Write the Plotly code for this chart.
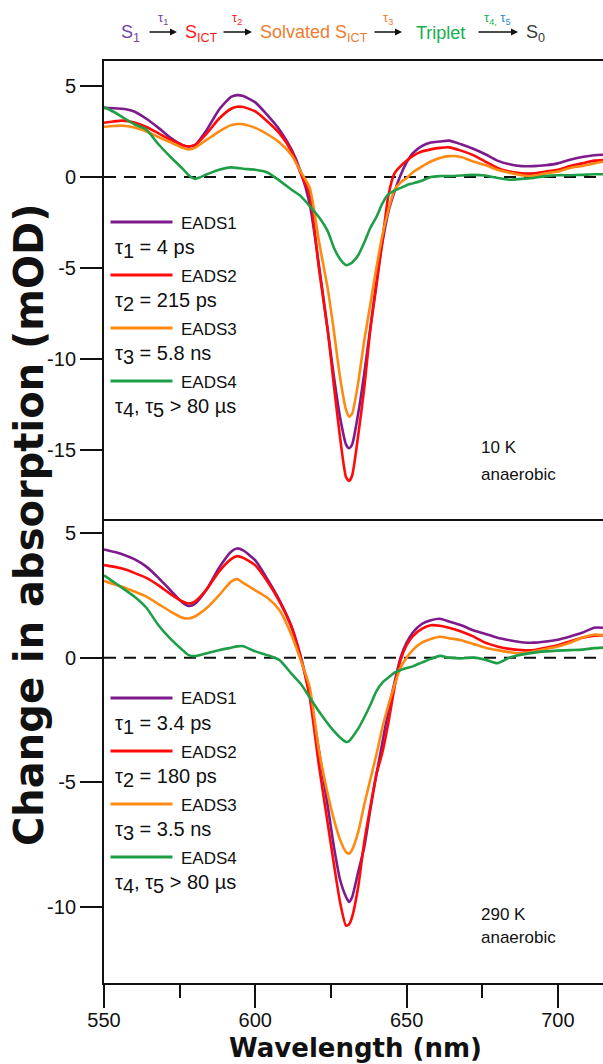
import plotly.graph_objects as go

# ---------------- data ----------------
wavelength = [550, 553, 556, 560, 564, 568, 572, 576, 578, 580, 584, 588, 592, 594, 596,
              600, 604, 608, 612, 615, 618, 621, 624, 626, 628, 630, 631, 632, 634, 636,
              638, 640, 642, 644, 646, 648, 650, 652, 655, 658, 661, 664, 668, 672, 676,
              680, 684, 688, 692, 696, 700, 704, 708, 712, 715]

# 10 K anaerobic
eads1_10K = [3.8, 3.78, 3.75, 3.6, 3.2, 2.7, 2.15, 1.75, 1.68, 1.75, 2.6, 3.7, 4.4, 4.5, 4.45,
             4.1, 3.4, 2.6, 1.5, 0.3, -1.5, -4.8, -8.5, -11.0, -13.2, -14.7, -14.9, -14.7, -13.0, -10.8,
             -8.3, -5.8, -3.6, -1.9, -0.8, 0.1, 0.8, 1.3, 1.7, 1.9, 1.95, 2.0, 1.8, 1.55, 1.25,
             0.9, 0.7, 0.6, 0.6, 0.65, 0.75, 0.95, 1.1, 1.2, 1.22]
eads2_10K = [2.98, 3.05, 3.1, 3.0, 2.75, 2.4, 2.05, 1.75, 1.68, 1.75, 2.4, 3.2, 3.75, 3.86, 3.85,
             3.6, 3.05, 2.4, 1.4, 0.2, -1.0, -5.0, -8.5, -11.5, -14.3, -16.5, -16.7, -16.4, -14.2, -11.6,
             -8.4, -6.0, -3.5, -1.0, 0.2, 0.6, 0.9, 1.15, 1.4, 1.52, 1.6, 1.63, 1.45, 1.2, 0.85,
             0.5, 0.3, 0.2, 0.2, 0.3, 0.4, 0.6, 0.75, 0.9, 0.93]
eads3_10K = [2.76, 2.8, 2.82, 2.72, 2.5, 2.2, 1.9, 1.6, 1.52, 1.6, 2.05, 2.5, 2.85, 2.91, 2.9,
             2.7, 2.35, 1.9, 1.2, 0.3, -0.6, -3.5, -6.2, -8.5, -11.0, -12.8, -13.17, -13.0, -11.3, -9.0,
             -7.0, -5.0, -3.2, -1.8, -0.7, -0.3, -0.05, 0.25, 0.57, 0.85, 1.05, 1.15, 1.1, 0.85, 0.66,
             0.4, 0.24, 0.1, 0.05, 0.2, 0.3, 0.5, 0.6, 0.75, 0.84]
eads4_10K = [3.85, 3.6, 3.3, 2.9, 2.6, 1.8, 1.1, 0.45, 0.1, -0.1, 0.15, 0.4, 0.53, 0.5, 0.45,
             0.4, 0.25, -0.2, -0.7, -1.05, -1.6, -2.2, -3.0, -3.9, -4.5, -4.84, -4.8, -4.7, -4.3, -3.6,
             -2.8, -2.2, -1.45, -0.95, -0.75, -0.6, -0.45, -0.35, -0.2, 0.0, 0.05, 0.05, 0.08, 0.12, 0.08,
             -0.05, -0.15, -0.1, -0.05, 0.05, 0.1, 0.1, 0.12, 0.15, 0.15]

# 290 K anaerobic
eads1_290K = [4.34, 4.25, 4.15, 3.95, 3.65, 3.2, 2.7, 2.2, 2.07, 2.15, 2.75, 3.6, 4.25, 4.38, 4.3,
              3.9, 3.15, 2.3, 1.25, 0.05, -1.5, -3.7, -6.0, -7.6, -8.9, -9.6, -9.8, -9.6, -8.6, -7.6,
              -6.1, -4.7, -3.4, -2.1, -1.0, 0.0, 0.6, 1.0, 1.35, 1.5, 1.56, 1.45, 1.3, 1.1, 0.95,
              0.8, 0.7, 0.62, 0.6, 0.65, 0.72, 0.85, 1.0, 1.2, 1.2]
eads2_290K = [3.71, 3.65, 3.57, 3.4, 3.2, 2.9, 2.55, 2.25, 2.17, 2.25, 2.75, 3.45, 3.95, 4.07, 4.0,
              3.7, 3.05, 2.25, 1.2, 0.0, -1.6, -4.3, -6.7, -8.3, -9.8, -10.75, -10.7, -10.4, -9.2, -7.4,
              -6.0, -4.7, -3.8, -2.6, -1.2, -0.1, 0.5, 0.85, 1.15, 1.3, 1.28, 1.2, 1.05, 0.85, 0.6,
              0.45, 0.35, 0.3, 0.3, 0.4, 0.5, 0.65, 0.8, 0.88, 0.9]
eads3_290K = [3.08, 2.95, 2.84, 2.65, 2.45, 2.15, 1.85, 1.6, 1.57, 1.65, 2.0, 2.5, 3.05, 3.15, 3.0,
              2.7, 2.4, 1.9, 0.9, -0.1, -1.2, -3.7, -5.5, -6.5, -7.3, -7.8, -7.86, -7.7, -7.0, -5.9,
              -4.9, -3.9, -2.8, -1.9, -1.1, -0.4, 0.0, 0.3, 0.6, 0.75, 0.84, 0.78, 0.7, 0.55, 0.4,
              0.3, 0.22, 0.17, 0.25, 0.35, 0.45, 0.6, 0.8, 0.92, 0.9]
eads4_290K = [3.3, 3.05, 2.8, 2.45, 2.0, 1.3, 0.75, 0.3, 0.1, 0.06, 0.18, 0.3, 0.4, 0.45, 0.46,
              0.25, 0.1, -0.1, -0.65, -1.05, -1.6, -2.15, -2.65, -2.95, -3.2, -3.38, -3.35, -3.2, -2.85, -2.4,
              -1.9, -1.35, -1.0, -0.8, -0.6, -0.5, -0.42, -0.35, -0.2, -0.05, 0.07, 0.0, -0.03, 0.0, -0.08,
              -0.22, 0.0, 0.12, 0.2, 0.25, 0.28, 0.3, 0.32, 0.38, 0.4]

series_names = ["EADS1", "EADS2", "EADS3", "EADS4"]
lifetimes_10K = ["1 = 4 ps", "2 = 215 ps", "3 = 5.8 ns", "4, τ5 > 80 µs"]
lifetimes_290K = ["1 = 3.4 ps", "2 = 180 ps", "3 = 3.5 ns", "4, τ5 > 80 µs"]
x_ticks = [550, 600, 650, 700]
y_ticks_10K = [5, 0, -5, -10, -15]
y_ticks_290K = [5, 0, -5, -10]

# ---------------- styling ----------------
colors = ["#7E1A8C", "#FF0A0A", "#FF8A12", "#1F9E48"]
FONT = "Liberation Sans, Arial, sans-serif"
BOLD = "DejaVu Sans, Arial, sans-serif"

W, H = 603, 1064
L, R, T, B = 104, 0, 61, 81
PW, PH = W - L - R, H - T - B


def fx(p):
    return (p - L) / PW


def fy(p):
    return (H - B - p) / PH


split = fy(521)

fig = go.Figure()

for name, vals, c in zip(series_names, [eads1_10K, eads2_10K, eads3_10K, eads4_10K], colors):
    fig.add_trace(go.Scatter(x=wavelength, y=vals, xaxis="x2", yaxis="y", mode="lines",
                             line=dict(color=c, width=2.6, shape="spline", smoothing=0.6),
                             name=name, showlegend=False))
for name, vals, c in zip(series_names, [eads1_290K, eads2_290K, eads3_290K, eads4_290K], colors):
    fig.add_trace(go.Scatter(x=wavelength, y=vals, xaxis="x", yaxis="y2", mode="lines",
                             line=dict(color=c, width=2.6, shape="spline", smoothing=0.6),
                             name=name, showlegend=False))

xr = [550, 550 + (W - L) / 151.3 * 50]

axis_common = dict(showline=True, linecolor="#111", linewidth=2, showgrid=False, zeroline=False)

fig.update_layout(
    width=W, height=H, margin=dict(l=L, r=R, t=T, b=B),
    paper_bgcolor="white", plot_bgcolor="white", template="none",
    font=dict(family=FONT, color="#111", size=20),
    xaxis=dict(domain=[0, 1], anchor="y2", range=xr, mirror=True,
               tickmode="array", tickvals=x_ticks, ticktext=[str(v) for v in x_ticks],
               ticks="outside", ticklen=23, tickwidth=2, tickcolor="#111",
               ticklabelstandoff=-5,
               tickfont=dict(size=20, family=FONT),
               minor=dict(tickmode="linear", tick0=575, dtick=50, ticks="outside",
                          ticklen=13, tickwidth=2, tickcolor="#111", showgrid=False),
               **axis_common),
    xaxis2=dict(domain=[0, 1], anchor="y", range=xr, matches="x", side="top",
                showticklabels=False, ticks="", **axis_common),
    yaxis=dict(domain=[split, 1], anchor="x2", range=[-18.9, 6.374],
               tickmode="array", tickvals=y_ticks_10K, ticktext=[str(v) for v in y_ticks_10K],
               ticks="outside", ticklen=22, tickwidth=2, tickcolor="#111",
               tickfont=dict(size=20, family=FONT), **axis_common),
    yaxis2=dict(domain=[0, split], anchor="x", range=[-13.05, 5.48],
                tickmode="array", tickvals=y_ticks_290K, ticktext=[str(v) for v in y_ticks_290K],
                ticks="outside", ticklen=22, tickwidth=2, tickcolor="#111",
                tickfont=dict(size=20, family=FONT), **axis_common),
)

shapes = []
# dashed zero lines
for yref in ["y", "y2"]:
    shapes.append(dict(type="line", xref="paper", yref=yref, x0=0, x1=1, y0=0, y1=0,
                       line=dict(color="#111", width=2, dash="12px,8px"), layer="below"))

annotations = []

# legends (manual, as in the reference)
def add_legend(top_line_px, lifetimes):
    step = 53
    for i, (name, c, lt) in enumerate(zip(series_names, colors, lifetimes)):
        yl = top_line_px + i * step
        shapes.append(dict(type="line", xref="paper", yref="paper",
                           x0=fx(110.5), x1=fx(172.5), y0=fy(yl), y1=fy(yl),
                           line=dict(color=c, width=3.2)))
        annotations.append(dict(xref="paper", yref="paper", x=fx(179), y=fy(yl + 1),
                                xanchor="left", yanchor="middle", showarrow=False,
                                text=name, font=dict(size=17, family=FONT, color="#111")))
        annotations.append(dict(xref="paper", yref="paper", x=fx(113), y=fy(yl + 27),
                                xanchor="left", yanchor="middle", showarrow=False,
                                text="τ<span style='baseline-shift:-22%'>" + lt[0] + "</span>"
                                     + lt[1:].replace("τ5", "τ<span style='baseline-shift:-22%'>5</span>"),
                                font=dict(size=20, family=FONT, color="#111")))


add_legend(222, lifetimes_10K)
add_legend(698, lifetimes_290K)

# condition labels
for txt, yy in [("10 K", 447), ("anaerobic", 474), ("290 K", 914), ("anaerobic", 937)]:
    annotations.append(dict(xref="paper", yref="paper", x=fx(479), y=fy(yy), xanchor="left",
                            yanchor="middle", showarrow=False, text=txt,
                            font=dict(size=17, family=FONT, color="#111")))

# axis titles
annotations.append(dict(xref="paper", yref="paper", x=fx(355), y=fy(1048), xanchor="center",
                        yanchor="middle", showarrow=False, text="<b>Wavelength (nm)</b>",
                        font=dict(size=26, family=BOLD, color="#111")))
annotations.append(dict(xref="paper", yref="paper", x=fx(29), y=fy(525), xanchor="center",
                        yanchor="middle", showarrow=False, textangle=-90,
                        text="<b>Change in absorption (mOD)</b>",
                        font=dict(size=40, family=BOLD, color="#111")))

# kinetic scheme on top
PURPLE, RED, ORANGE, GREEN, BLUE, GREY = "#7A3FA6", "#FF1A1A", "#EE7D31", "#12B050", "#2E8AD6", "#3A3A3A"
scheme = [
    ("S<sub>1</sub>", 130, PURPLE),
    ("S<sub>ICT</sub>", 201, RED),
    ("Solvated S<sub>ICT</sub>", 314, ORANGE),
    ("Triplet", 440, GREEN),
    ("S<sub>0</sub>", 535, GREY),
]
for txt, xc, c in scheme:
    annotations.append(dict(xref="paper", yref="paper", x=fx(xc), y=fy(33), xanchor="center",
                            yanchor="middle", showarrow=False, text=txt,
                            font=dict(size=18, family=FONT, color=c)))
arrows = [(148, 177, "τ<sub>1</sub>", PURPLE), (222, 252, "τ<sub>2</sub>", RED),
          (373, 402, "τ<sub>3</sub>", ORANGE), (477, 518, None, None)]
for x0, x1, lab, c in arrows:
    annotations.append(dict(xref="paper", yref="paper", x=fx(x1), y=fy(32), ax=x0 - x1, ay=0,
                            axref="pixel", ayref="pixel", showarrow=True, arrowhead=2,
                            arrowsize=1, arrowwidth=1.4, arrowcolor="#111", text=""))
    if lab:
        annotations.append(dict(xref="paper", yref="paper", x=fx((x0 + x1) / 2), y=fy(19),
                                xanchor="center", yanchor="middle", showarrow=False, text=lab,
                                font=dict(size=13, family=FONT, color=c)))
annotations.append(dict(xref="paper", yref="paper", x=fx(497), y=fy(19), xanchor="center",
                        yanchor="middle", showarrow=False,
                        text="<span style='color:%s'>τ<sub>4,</sub></span> <span style='color:%s'>τ<sub>5</sub></span>" % (GREEN, BLUE),
                        font=dict(size=13, family=FONT)))

fig.update_layout(shapes=shapes, annotations=annotations)

fig.write_html("out.html", config={"displayModeBar": False},
               post_script="document.body.style.margin='0';document.body.style.overflow='hidden';")
